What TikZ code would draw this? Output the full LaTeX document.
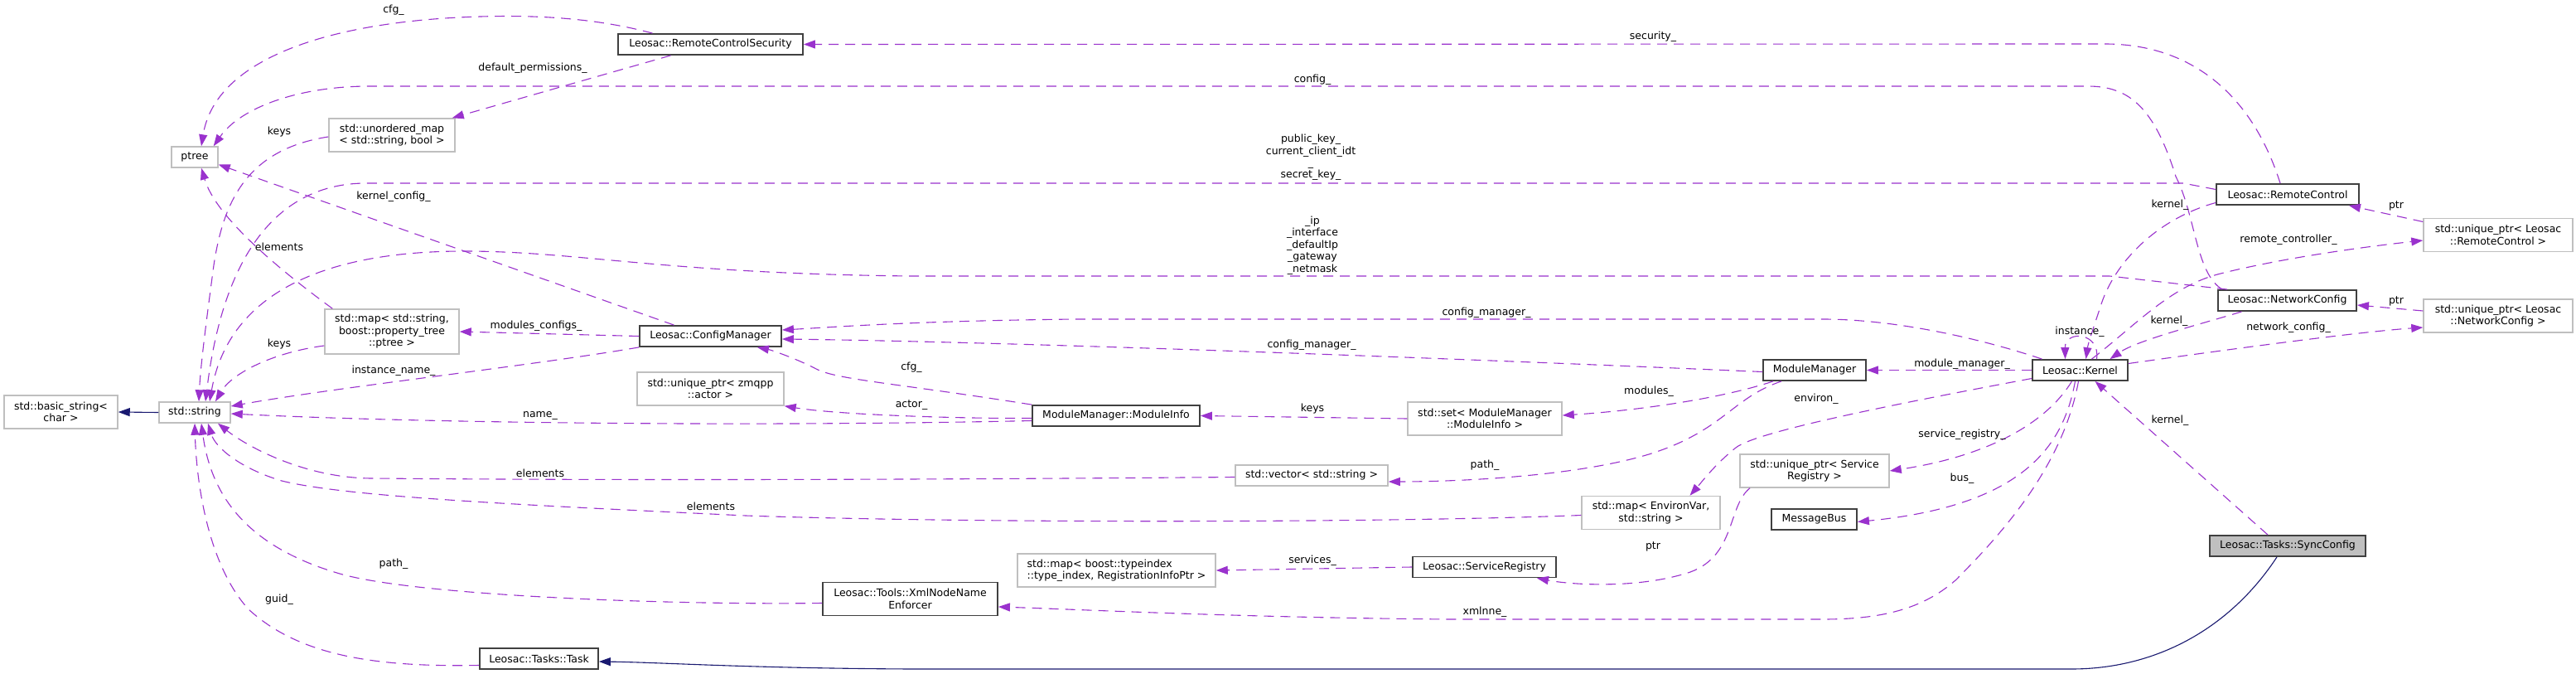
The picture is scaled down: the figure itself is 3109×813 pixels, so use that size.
\documentclass[tikz,border=0pt]{standalone}
\usepackage{fontspec}
\setmainfont{DejaVu Sans}
\usetikzlibrary{arrows.meta}
\definecolor{orchid}{HTML}{9A32CD}
\definecolor{navyb}{HTML}{191970}
\definecolor{gborder}{HTML}{BFBFBF}
\definecolor{bborder}{HTML}{404040}
\definecolor{gfill}{HTML}{BFBFBF}
\begin{document}
\begin{tikzpicture}[x=1pt,y=-1pt,
  every node/.style={font=\fontsize{12.5}{14.5}\selectfont, inner sep=0pt, align=center},
  gbox/.style={draw=gborder, line width=1.5pt, fill=white},
  cbox/.style={draw=bborder, line width=1.8pt, fill=white},
  lbl/.style={fill=none},
  rel/.style={draw=orchid, line width=1.1pt, dash pattern=on 12pt off 8pt, -{Triangle[length=14pt,width=10pt]}},
  inh/.style={draw=navyb, line width=1.1pt, -{Triangle[length=14pt,width=10pt]}}]
\fill[white] (0,0) rectangle (3109,813);
\useasboundingbox (0,0) rectangle (3109,813);

% nodes
\node[cbox, minimum width=223pt, minimum height=25pt] (rcs) at (857.5,53.5) {Leosac::RemoteControlSecurity};
\node[gbox, minimum width=56pt, minimum height=25pt] (ptree) at (235,189.5) {ptree};
\node[gbox, minimum width=152pt, minimum height=40pt] (umap) at (473,163) {std::unordered\_map\\< std::string, bool >};
\node[gbox, minimum width=162pt, minimum height=54pt] (smap) at (473,400) {std::map< std::string,\\boost::property\_tree\\::ptree >};
\node[gbox, minimum width=137pt, minimum height=40pt] (bstr) at (73.5,497) {std::basic\_string<\\char >};
\node[gbox, minimum width=86pt, minimum height=25pt] (str) at (235,497.5) {std::string};
\node[cbox, minimum width=171pt, minimum height=25pt] (cfgm) at (857.5,405.5) {Leosac::ConfigManager};
\node[gbox, minimum width=177pt, minimum height=40pt] (zmq) at (857.5,469) {std::unique\_ptr< zmqpp\\::actor >};
\node[cbox, minimum width=202pt, minimum height=25pt] (minfo) at (1347,501.5) {ModuleManager::ModuleInfo};
\node[gbox, minimum width=184pt, minimum height=25pt] (vec) at (1583,573.5) {std::vector< std::string >};
\node[gbox, minimum width=239pt, minimum height=40pt, align=left] (tmap) at (1347.5,688) {std::map< boost::typeindex\\::type\_index, RegistrationInfoPtr >};
\node[cbox, minimum width=211pt, minimum height=40pt] (xml) at (1098.5,722.5) {Leosac::Tools::XmlNodeName\\Enforcer};
\node[cbox, minimum width=143pt, minimum height=25pt] (task) at (650.5,794.5) {Leosac::Tasks::Task};
\node[gbox, minimum width=186pt, minimum height=40pt] (sset) at (1792,505) {std::set< ModuleManager\\::ModuleInfo >};
\node[cbox, minimum width=173pt, minimum height=25pt] (sreg) at (1791.5,684) {Leosac::ServiceRegistry};
\node[gbox, minimum width=167pt, minimum height=40pt] (emap) at (1992.5,618.5) {std::map< EnvironVar,\\std::string >};
\node[cbox, minimum width=124pt, minimum height=25pt] (mm) at (2190,446.5) {ModuleManager};
\node[gbox, minimum width=180pt, minimum height=40pt] (usr) at (2190,568) {std::unique\_ptr< Service\\Registry >};
\node[cbox, minimum width=103pt, minimum height=25pt] (mbus) at (2189.5,626.5) {MessageBus};
\node[cbox, minimum width=115pt, minimum height=25pt] (kern) at (2510.5,446.5) {Leosac::Kernel};
\node[cbox, minimum width=172pt, minimum height=25pt] (rc) at (2761,234.5) {Leosac::RemoteControl};
\node[cbox, minimum width=167pt, minimum height=25pt] (nc) at (2760.5,362.5) {Leosac::NetworkConfig};
\node[gbox, minimum width=180pt, minimum height=40pt] (urc) at (3015,283.5) {std::unique\_ptr< Leosac\\::RemoteControl >};
\node[gbox, minimum width=180pt, minimum height=40pt] (unc) at (3015,381) {std::unique\_ptr< Leosac\\::NetworkConfig >};
\node[cbox, fill=gfill, minimum width=188pt, minimum height=25pt] (sync) at (2761,658.5) {Leosac::Tasks::SyncConfig};

% inheritance
\draw[inh] (str.west) -- (bstr.east);
\draw[inh] ([xshift=-13pt]sync.south) .. controls (2690,760) and (2600,807) .. (2500,807) -- (1100,807) .. controls (900,806) and (800,799) .. ([yshift=-3.5pt]task.east);

% relations
\draw[rel] ([xshift=-70pt]rcs.north) .. controls (720,22) and (650,18) .. (580,20) .. controls (400,25) and (260,70) .. ([xshift=8pt]ptree.north);
\draw[rel] ([xshift=-48pt]rcs.south) -- ([xshift=-4pt]umap.north east);
\draw[rel] ([xshift=-9pt]rc.north) .. controls (2720,120) and (2650,53) .. (2540,53) -- (rcs.east);
\draw[rel] ([xshift=6pt]nc.north west) .. controls (2650,330) and (2650,260) .. (2626,213) .. controls (2600,130) and (2570,104) .. (2520,104) -- (446,104) .. controls (360,104) and (290,130) .. ([xshift=-6pt]ptree.north east);
\draw[rel] ([yshift=6pt]rc.west) -- (2635,221) -- (442,221) .. controls (340,221) and (270,300) .. ([xshift=13pt]str.north);
\draw[rel] ([xshift=12pt]nc.north west) -- (2546,333) -- (1100,333) .. controls (800,330) and (700,303) .. (560,303) .. controls (380,303) and (275,360) .. ([xshift=18pt]str.north);
\draw[rel] ([yshift=-2pt]umap.west) .. controls (300,180) and (270,240) .. (258,320) .. controls (250,380) and (242,440) .. ([xshift=5pt]str.north);
\draw[rel] ([yshift=-17pt]smap.west) .. controls (330,425) and (280,450) .. ([xshift=25pt]str.north);
\draw[rel] ([xshift=10pt]smap.north west) .. controls (330,320) and (260,260) .. ([xshift=8pt]ptree.south);
\draw[rel] ([xshift=-44pt]cfgm.north) -- ([yshift=-9pt]ptree.east);
\draw[rel] (cfgm.west) -- (smap.east);
\draw[rel] (cfgm.south west) .. controls (650,440) and (400,468) .. ([yshift=7.5pt]str.east);
\draw[rel] ([yshift=-6pt]minfo.west) .. controls (900,515) and (500,510) .. ([yshift=-1.5pt]str.east);
\draw[rel] (minfo.north west) .. controls (1080,462) and (1010,458) .. (985,445) .. controls (960,432) and (930,422) .. ([xshift=-30pt]cfgm.south east);
\draw[rel] ([yshift=-3pt]minfo.west) .. controls (1150,505) and (1010,500) .. (zmq.south east);
\draw[rel] (sset.west) -- (minfo.east);
\draw[rel] ([yshift=-2pt]mm.west) .. controls (1700,430) and (1200,412) .. ([yshift=-3.5pt]cfgm.east);
\draw[rel] ([xshift=-46pt]kern.north) .. controls (2380,405) and (2280,385) .. (2200,385) -- (1300,385) .. controls (1100,387) and (1000,395) .. ([yshift=7.5pt]cfgm.east);
\draw[rel] ([xshift=-50pt]mm.south) .. controls (2080,480) and (1980,495) .. ([yshift=4pt]sset.east);
\draw[rel] ([xshift=-40pt]mm.south) .. controls (2090,480) and (2080,520) .. (1990,548) .. controls (1900,575) and (1760,581) .. ([yshift=-7.5pt]vec.east);
\draw[rel] (kern.west) -- (mm.east);
\draw[rel] ([yshift=-10pt]kern.west) .. controls (2300,485) and (2120,520) .. (2095,540) .. controls (2070,560) and (2055,580) .. ([xshift=47pt]emap.north);
\draw[rel] ([xshift=-10pt]kern.south) .. controls (2470,510) and (2400,550) .. (usr.east);
\draw[rel] ([xshift=-6pt]kern.south) .. controls (2490,540) and (2440,610) .. ([yshift=-3pt]mbus.east);
\draw[rel] ([xshift=-2pt]kern.south) .. controls (2490,560) and (2420,640) .. (2360,700) .. controls (2320,735) and (2270,747) .. (2200,747) -- (1750,747) .. controls (1500,745) and (1300,735) .. ([yshift=-9.5pt]xml.east);
\draw[rel] ([xshift=-78pt]usr.south) .. controls (2085,610) and (2095,670) .. (2040,690) .. controls (1980,710) and (1900,706) .. ([xshift=-24pt]sreg.south east);
\draw[rel] (sreg.west) -- (tmap.east);
\draw[rel] ([xshift=20pt]kern.north) .. controls (2535,400) and (2492,398) .. ([xshift=-18pt]kern.north);
\draw[rel] ([yshift=-10pt]rc.west) .. controls (2600,265) and (2550,320) .. (2535,370) .. controls (2525,400) and (2520,415) .. ([xshift=7pt]kern.north);
\draw[rel] ([xshift=-55pt]nc.south) .. controls (2660,390) and (2580,410) .. ([xshift=36pt]kern.north);
\draw[rel] ([xshift=14pt]kern.north) .. controls (2580,390) and (2620,345) .. (2680,330) .. controls (2760,310) and (2860,297) .. ([yshift=-6.5pt]urc.west);
\draw[rel] ([yshift=16pt]urc.west) -- ([xshift=-13pt]rc.south east);
\draw[rel] ([yshift=8pt]kern.east) .. controls (2700,420) and (2850,400) .. ([yshift=-14pt]unc.west);
\draw[rel] ([yshift=6pt]unc.west) -- ([yshift=-5.5pt]nc.east);
\draw[rel] ([xshift=-24pt]sync.north) -- ([xshift=18pt]kern.south);
\draw[rel] ([yshift=-2pt]vec.west) .. controls (1200,578) and (800,580) .. (450,577) .. controls (370,577) and (300,540) .. ([xshift=28pt]str.south);
\draw[rel] ([yshift=-3pt]emap.west) .. controls (1700,630) and (1200,632) .. (900,622) .. controls (650,610) and (420,600) .. (340,580) .. controls (290,565) and (260,540) .. ([xshift=16pt]str.south);
\draw[rel] ([yshift=-5pt]xml.west) .. controls (800,730) and (500,718) .. (410,692) .. controls (300,660) and (255,600) .. ([xshift=8pt]str.south);
\draw[rel] ([yshift=-8pt]task.west) .. controls (450,805) and (360,790) .. (300,735) .. controls (250,680) and (237,580) .. (str.south);

% labels
\node[lbl] (l1) at (475,12) {cfg\_};
\node[lbl] (l2) at (643,82) {default\_permissions\_};
\node[lbl] (l3) at (337,159) {keys};
\node[lbl] (l4) at (475,237) {kernel\_config\_};
\node[lbl] (l5) at (337,298) {elements};
\node[lbl] (l6) at (337,415) {keys};
\node[lbl] (l7) at (647,393) {modules\_configs\_};
\node[lbl] (l8) at (475,447) {instance\_name\_};
\node[lbl] (l9) at (652,501) {name\_};
\node[lbl] (l10) at (652,571) {elements};
\node[lbl] (l11) at (858,611) {elements};
\node[lbl] (l12) at (475,680) {path\_};
\node[lbl] (l13) at (337,723) {guid\_};
\node[lbl] (l14) at (1100,443) {cfg\_};
\node[lbl] (l15) at (1100,489) {actor\_};
\node[lbl] (l16) at (1584,96) {config\_};
\node[lbl, font=\fontsize{12.5}{14.2}\selectfont] (l17) at (1582,190) {public\_key\_\\current\_client\_idt\\\_\\secret\_key\_};
\node[lbl, font=\fontsize{12.5}{14.5}\selectfont] (l18) at (1584,296) {\_ip\\\_interface\\\_defaultIp\\\_gateway\\\_netmask};
\node[lbl] (l19) at (1583,416) {config\_manager\_};
\node[lbl] (l20) at (1584,493) {keys};
\node[lbl] (l21) at (1584,676) {services\_};
\node[lbl] (l22) at (1995,44) {security\_};
\node[lbl] (l23) at (1794,377) {config\_manager\_};
\node[lbl] (l24) at (1990,472) {modules\_};
\node[lbl] (l25) at (1792,561) {path\_};
\node[lbl] (l26) at (1995,659) {ptr};
\node[lbl] (l27) at (1792,738) {xmlnne\_};
\node[lbl] (l28) at (2368,439) {module\_manager\_};
\node[lbl] (l29) at (2192,481) {environ\_};
\node[lbl] (l30) at (2368,524) {service\_registry\_};
\node[lbl] (l31) at (2368,577) {bus\_};
\node[lbl] (l32) at (2510,400) {instance\_};
\node[lbl] (l33) at (2619,247) {kernel\_};
\node[lbl] (l34) at (2618,387) {kernel\_};
\node[lbl] (l35) at (2619,507) {kernel\_};
\node[lbl] (l36) at (2762,289) {remote\_controller\_};
\node[lbl] (l37) at (2762,395) {network\_config\_};
\node[lbl] (l38) at (2892,248) {ptr};
\node[lbl] (l39) at (2892,363) {ptr};
\end{tikzpicture}
\end{document}
